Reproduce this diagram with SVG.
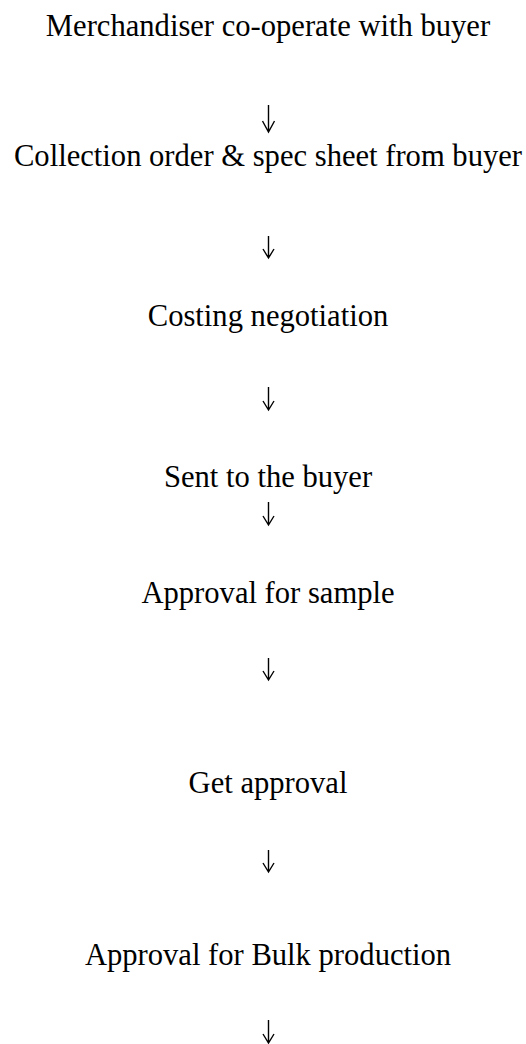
<svg xmlns="http://www.w3.org/2000/svg" width="526" height="1044" viewBox="0 0 526 1044">
<style>
.t{font-family:"Liberation Serif","Times New Roman",serif;font-size:30.6px;fill:#000;text-anchor:middle}
.a{stroke:#000;stroke-width:1.4;fill:none}
.h{fill:#000;stroke:none}
</style>
<rect width="526" height="1044" fill="#fff"/>
<g id="n1"><text class="t" x="268" y="36">Merchandiser co-operate with buyer</text></g>
<g id="n2"><text class="t" x="268" y="166">Collection order &amp; spec sheet from buyer</text></g>
<g id="n3"><text class="t" x="268" y="326">Costing negotiation</text></g>
<g id="n4"><text class="t" x="268" y="487">Sent to the buyer</text></g>
<g id="n5"><text class="t" x="268" y="603">Approval for sample</text></g>
<g id="n6"><text class="t" x="268" y="793">Get approval</text></g>
<g id="n7"><text class="t" x="268" y="965">Approval for Bulk production</text></g>
<g id="connectors" class="a">
<path d="M268.5 105V132M262.5 121L268.5 132L274.5 121"/>
<path d="M268.5 236V258M263 249L268.5 258L274 249"/>
<path d="M268.5 387V410M263 401L268.5 410L274 401"/>
<path d="M268.5 502V525M263 516L268.5 525L274 516"/>
<path d="M268.5 658V680M263 671L268.5 680L274 671"/>
<path d="M268.5 850V872M263 863L268.5 872L274 863"/>
<path d="M268.5 1020V1043M263 1034L268.5 1043L274 1034"/>
</g>
</svg>
